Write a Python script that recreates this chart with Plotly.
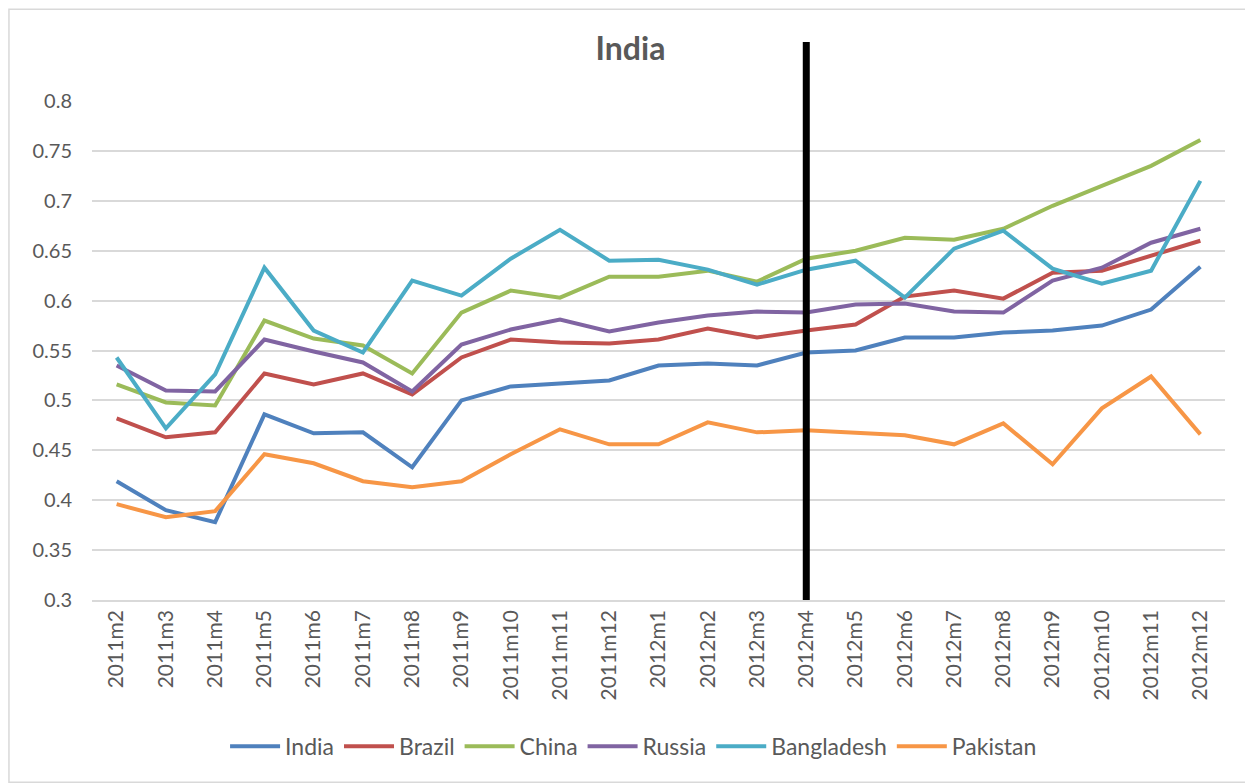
import plotly.graph_objects as go

# 데이터
months = [
    "2011m2", "2011m3", "2011m4", "2011m5", "2011m6", "2011m7", "2011m8",
    "2011m9", "2011m10", "2011m11", "2011m12", "2012m1", "2012m2", "2012m3",
    "2012m4", "2012m5", "2012m6", "2012m7", "2012m8", "2012m9", "2012m10",
    "2012m11", "2012m12",
]
india = [0.419, 0.390, 0.378, 0.486, 0.467, 0.468, 0.433, 0.500, 0.514, 0.517, 0.520, 0.535,
         0.537, 0.535, 0.548, 0.550, 0.563, 0.563, 0.568, 0.570, 0.575, 0.591, 0.634]
brazil = [0.482, 0.463, 0.468, 0.527, 0.516, 0.527, 0.506, 0.543, 0.561, 0.558, 0.557, 0.561,
          0.572, 0.563, 0.570, 0.576, 0.604, 0.610, 0.602, 0.628, 0.630, 0.645, 0.660]
china = [0.516, 0.498, 0.495, 0.580, 0.562, 0.555, 0.527, 0.588, 0.610, 0.603, 0.624, 0.624,
         0.630, 0.619, 0.642, 0.650, 0.663, 0.661, 0.672, 0.695, 0.715, 0.735, 0.761]
russia = [0.535, 0.510, 0.509, 0.561, 0.549, 0.538, 0.509, 0.556, 0.571, 0.581, 0.569, 0.578,
          0.585, 0.589, 0.588, 0.596, 0.597, 0.589, 0.588, 0.620, 0.633, 0.658, 0.672]
bangladesh = [0.543, 0.472, 0.526, 0.633, 0.570, 0.548, 0.620, 0.605, 0.642, 0.671, 0.640, 0.641,
              0.631, 0.616, 0.631, 0.640, 0.603, 0.652, 0.670, 0.632, 0.617, 0.630, 0.720]
pakistan = [0.396, 0.383, 0.389, 0.446, 0.437, 0.419, 0.413, 0.419, 0.446, 0.471, 0.456, 0.456,
            0.478, 0.468, 0.470, 0.468, 0.465, 0.456, 0.477, 0.436, 0.492, 0.524, 0.466]

y_ticks = [0.3, 0.35, 0.4, 0.45, 0.5, 0.55, 0.6, 0.65, 0.7, 0.75, 0.8]
y_tick_labels = ["0.3", "0.35", "0.4", "0.45", "0.5", "0.55", "0.6", "0.65", "0.7", "0.75", "0.8"]
marker_month = "2012m4"

# 색상 (Excel 기본 팔레트)
series = [
    ("India", india, "#4F81BD"),
    ("Brazil", brazil, "#C0504D"),
    ("China", china, "#9BBB59"),
    ("Russia", russia, "#8064A2"),
    ("Bangladesh", bangladesh, "#4BACC6"),
    ("Pakistan", pakistan, "#F79646"),
]

FONT = "Lato, Open Sans, sans-serif"
TEXT_COLOR = "#595959"

fig = go.Figure()
for name, values, color in series:
    fig.add_trace(go.Scatter(
        x=months, y=values, name=name, mode="lines",
        line=dict(color=color, width=4),
    ))

# 세로 기준선
fig.add_shape(
    type="line", xref="x", yref="paper",
    x0=marker_month, x1=marker_month, y0=0, y1=1.118,
    line=dict(color="black", width=7),
)

# 차트 테두리
fig.add_shape(
    type="rect", xref="paper", yref="paper",
    x0=-0.0733, x1=1.023, y0=-0.365, y1=1.184,
    line=dict(color="#D9D9D9", width=1.5),
)

# 페이지 여백(8px) 보정
fig.update_layout(
    width=1245, height=776,
    margin=dict(l=84, r=28, t=93, b=184),
    paper_bgcolor="white",
    plot_bgcolor="white",
    font=dict(family=FONT, color=TEXT_COLOR, size=20),
    title=dict(
        text="<b>India</b>", x=0.5, xanchor="center", y=0.948, yanchor="middle",
        font=dict(family=FONT, size=32, color=TEXT_COLOR),
    ),
    legend=dict(
        orientation="h", x=0.478, xanchor="center", y=-0.293, yanchor="middle",
        font=dict(family=FONT, size=23, color=TEXT_COLOR),
        itemwidth=50,
    ),
    xaxis=dict(
        type="category", tickangle=-90, showgrid=False,
        range=[-0.5, len(months) - 0.5],
        showline=True, linecolor="#D9D9D9", linewidth=1.5,
        ticks="", tickfont=dict(size=21),
    ),
    yaxis=dict(
        range=[0.3, 0.8], tickvals=y_ticks, ticktext=y_tick_labels,
        showgrid=True, gridcolor="#D9D9D9", gridwidth=1.5,
        zeroline=False, showline=False, ticks="outside", ticklen=15,
        tickcolor="rgba(0,0,0,0)",
        tickfont=dict(size=20),
    ),
)

fig.write_html("out.html")
